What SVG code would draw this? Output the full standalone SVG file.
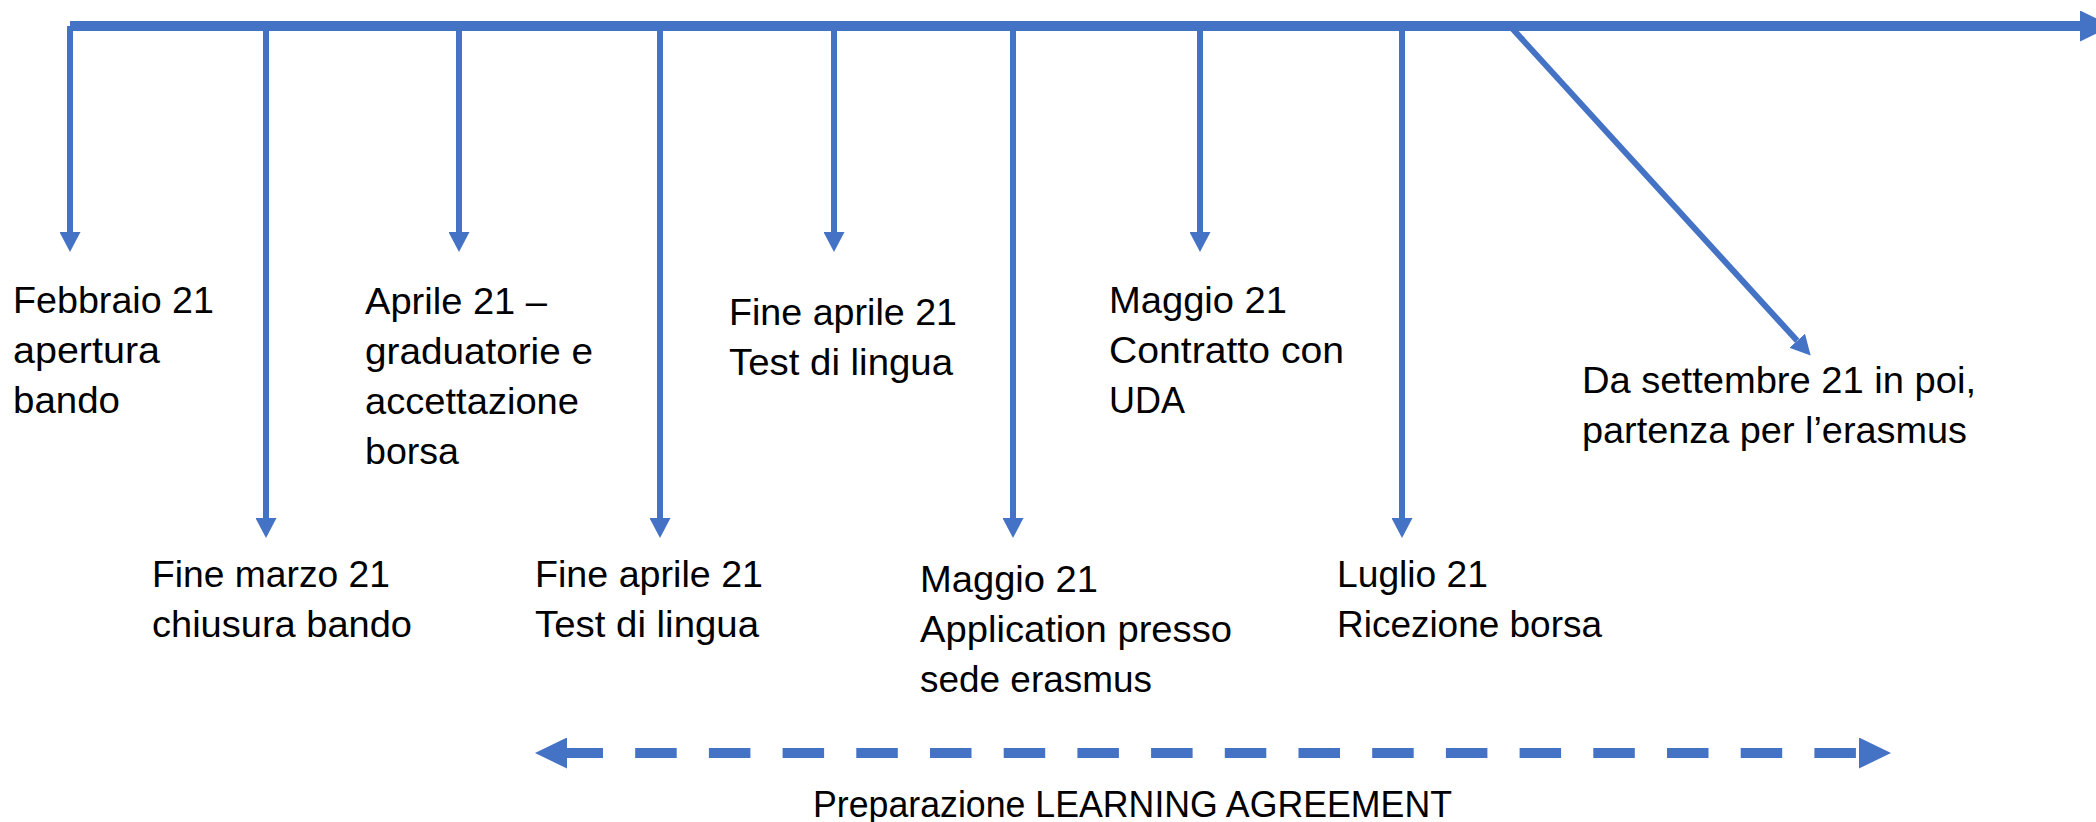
<svg xmlns="http://www.w3.org/2000/svg" width="2096" height="822" viewBox="0 0 2096 822">
  <style>
    .ln { stroke: #4472C4; fill: none; stroke-width: 6; }
    .main { stroke: #4472C4; fill: none; stroke-width: 10; }
    .dash { stroke: #4472C4; fill: none; stroke-width: 10; stroke-dasharray: 41.5 32.2; stroke-dashoffset: 5.5; }
    text { font-family: "Liberation Sans", Arial, sans-serif; font-size: 37px; fill: #000000; }
  </style>
  <defs>
    <marker id="ah" markerUnits="userSpaceOnUse" markerWidth="20" markerHeight="21" refX="0" refY="10.5" orient="auto">
      <path d="M0,0 L20,10.5 L0,21 Z" fill="#4472C4"/>
    </marker>
    <marker id="ahBig" markerUnits="userSpaceOnUse" markerWidth="32" markerHeight="31" refX="0" refY="15.5" orient="auto-start-reverse">
      <path d="M0,0 L32,15.5 L0,31 Z" fill="#4472C4"/>
    </marker>
  </defs>
  <rect width="2096" height="822" fill="#ffffff"/>

  <g id="connectors">
    <line class="main" x1="70" y1="26" x2="2080" y2="26" marker-end="url(#ahBig)"/>
    <line class="ln" x1="70" y1="26" x2="70" y2="232" marker-end="url(#ah)"/>
    <line class="ln" x1="266" y1="26" x2="266" y2="518" marker-end="url(#ah)"/>
    <line class="ln" x1="459" y1="26" x2="459" y2="232" marker-end="url(#ah)"/>
    <line class="ln" x1="660" y1="26" x2="660" y2="518" marker-end="url(#ah)"/>
    <line class="ln" x1="834" y1="26" x2="834" y2="232" marker-end="url(#ah)"/>
    <line class="ln" x1="1013" y1="26" x2="1013" y2="518" marker-end="url(#ah)"/>
    <line class="ln" x1="1200" y1="26" x2="1200" y2="232" marker-end="url(#ah)"/>
    <line class="ln" x1="1402" y1="26" x2="1402" y2="518" marker-end="url(#ah)"/>
    <line class="ln" x1="1510" y1="26" x2="1797.2" y2="340.8" marker-end="url(#ah)"/>
    <line class="dash" x1="567" y1="753" x2="1859" y2="753" marker-start="url(#ahBig)" marker-end="url(#ahBig)"/>
  </g>

  <g id="node-febbraio">
    <text x="13" y="313" textLength="201" lengthAdjust="spacingAndGlyphs">Febbraio 21</text>
    <text x="13" y="363" textLength="147" lengthAdjust="spacingAndGlyphs">apertura</text>
    <text x="13" y="413" textLength="107" lengthAdjust="spacingAndGlyphs">bando</text>
  </g>
  <g id="node-marzo">
    <text x="152" y="587" textLength="238" lengthAdjust="spacingAndGlyphs">Fine marzo 21</text>
    <text x="152" y="637" textLength="260" lengthAdjust="spacingAndGlyphs">chiusura bando</text>
  </g>
  <g id="node-aprile">
    <text x="365" y="314" textLength="182" lengthAdjust="spacingAndGlyphs">Aprile 21 –</text>
    <text x="365" y="364" textLength="228" lengthAdjust="spacingAndGlyphs">graduatorie e</text>
    <text x="365" y="414" textLength="214" lengthAdjust="spacingAndGlyphs">accettazione</text>
    <text x="365" y="464" textLength="94" lengthAdjust="spacingAndGlyphs">borsa</text>
  </g>
  <g id="node-fine-aprile-low">
    <text x="535" y="587" textLength="228" lengthAdjust="spacingAndGlyphs">Fine aprile 21</text>
    <text x="535" y="637" textLength="224" lengthAdjust="spacingAndGlyphs">Test di lingua</text>
  </g>
  <g id="node-fine-aprile-high">
    <text x="729" y="325" textLength="228" lengthAdjust="spacingAndGlyphs">Fine aprile 21</text>
    <text x="729" y="375" textLength="224" lengthAdjust="spacingAndGlyphs">Test di lingua</text>
  </g>
  <g id="node-maggio-application">
    <text x="920" y="592" textLength="178" lengthAdjust="spacingAndGlyphs">Maggio 21</text>
    <text x="920" y="642" textLength="312" lengthAdjust="spacingAndGlyphs">Application presso</text>
    <text x="920" y="692" textLength="232" lengthAdjust="spacingAndGlyphs">sede erasmus</text>
  </g>
  <g id="node-maggio-contratto">
    <text x="1109" y="313" textLength="178" lengthAdjust="spacingAndGlyphs">Maggio 21</text>
    <text x="1109" y="363" textLength="235" lengthAdjust="spacingAndGlyphs">Contratto con</text>
    <text x="1109" y="413" textLength="76" lengthAdjust="spacingAndGlyphs">UDA</text>
  </g>
  <g id="node-luglio">
    <text x="1337" y="587" textLength="151" lengthAdjust="spacingAndGlyphs">Luglio 21</text>
    <text x="1337" y="637" textLength="265" lengthAdjust="spacingAndGlyphs">Ricezione borsa</text>
  </g>
  <g id="node-settembre">
    <text x="1582" y="393" textLength="394" lengthAdjust="spacingAndGlyphs">Da settembre 21 in poi,</text>
    <text x="1582" y="443" textLength="385" lengthAdjust="spacingAndGlyphs">partenza per l’erasmus</text>
  </g>
  <g id="node-learning-agreement">
    <text x="813" y="817" textLength="639" lengthAdjust="spacingAndGlyphs">Preparazione LEARNING AGREEMENT</text>
  </g>
</svg>
